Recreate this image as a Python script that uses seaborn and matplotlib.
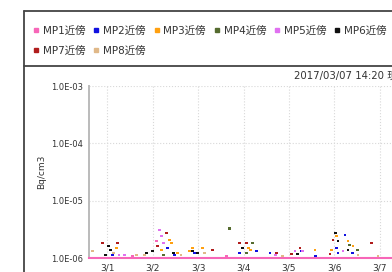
import matplotlib
matplotlib.use("Agg")
import matplotlib.pyplot as plt
import matplotlib.ticker as mtick
from matplotlib.lines import Line2D
import seaborn as sns
import pandas as pd

# --- data (day 1.0 = 2017-03-01 00:00, values in 1e-6 Bq/cm3) ---
series_names = ["MP1近傍", "MP2近傍", "MP3近傍", "MP4近傍", "MP5近傍", "MP6近傍", "MP7近傍", "MP8近傍"]
series_colors = ["#f766b8", "#1010e0", "#ffa010", "#556b2f", "#e070f0", "#101010", "#b01c1c", "#e0b888"]

mp1_days = [1.55, 2.08, 3.63]
mp1_vals = [1.08, 1.98, 1.08]
mp2_days = [1.11, 2.32, 2.48, 2.92, 3.91, 4.29, 4.58, 5.28, 5.59, 6.05, 6.08, 6.23, 6.39]
mp2_vals = [1.13, 1.49, 1.13, 1.22, 1.22, 1.32, 1.22, 1.32, 1.08, 1.49, 1.22, 2.51, 1.22]
mp3_days = [1.20, 2.19, 2.37, 2.41, 2.55, 2.81, 2.88, 3.10, 4.11, 4.16, 5.57, 5.94, 6.05, 6.30, 6.41]
mp3_vals = [1.49, 1.38, 2.06, 1.82, 1.22, 1.32, 1.49, 1.49, 1.49, 1.38, 1.38, 1.38, 2.41, 1.98, 1.62]
mp4_days = [2.24, 3.69, 4.07, 4.20, 6.34, 6.50]
mp4_vals = [1.13, 3.32, 1.22, 1.82, 1.68, 1.38]
mp5_days = [1.26, 1.38, 2.15, 2.19, 2.24, 4.71, 5.13, 5.30, 6.19]
mp5_vals = [1.13, 1.13, 3.07, 2.41, 1.82, 1.13, 1.32, 1.32, 1.32]
mp6_days = [0.96, 1.02, 1.07, 1.86, 1.99, 2.45, 2.88, 2.99, 3.98, 5.19, 6.03, 6.08, 6.30]
mp6_vals = [1.13, 1.62, 1.38, 1.22, 1.32, 1.22, 1.32, 1.22, 1.49, 1.17, 2.72, 1.98, 1.38]
mp7_days = [0.89, 1.22, 2.10, 2.30, 3.32, 3.91, 4.07, 4.73, 5.06, 5.24, 5.90, 5.97, 6.81]
mp7_vals = [1.82, 1.82, 1.62, 2.72, 1.38, 1.82, 1.82, 1.22, 1.17, 1.49, 1.17, 2.06, 1.82]
mp8_days = [0.67, 1.13, 1.64, 1.82, 2.62, 3.14, 4.86, 6.52, 6.96]
mp8_vals = [1.32, 1.22, 1.13, 1.13, 1.13, 1.22, 1.08, 1.13, 1.08]

tick_days = ["2017-03-01", "2017-03-02", "2017-03-03", "2017-03-04", "2017-03-05", "2017-03-06", "2017-03-07"]
tick_labels = ["3/1", "3/2", "3/3", "3/4", "3/5", "3/6", "3/7"]
y_ticks = [1e-6, 1e-5, 1e-4, 1e-3]
title_text = "2017/03/07 14:20 現在"
x_start, x_end = "2017-02-28 14:20", "2017-03-07 14:20"

# build long table
all_days = [mp1_days, mp2_days, mp3_days, mp4_days, mp5_days, mp6_days, mp7_days, mp8_days]
all_vals = [mp1_vals, mp2_vals, mp3_vals, mp4_vals, mp5_vals, mp6_vals, mp7_vals, mp8_vals]
rows = []
for name, days, vals in zip(series_names, all_days, all_vals):
    for d, v in zip(days, vals):
        rows.append({"series": name,
                     "time": pd.Timestamp("2017-02-28") + pd.to_timedelta(d, unit="D"),
                     "value": v * 1e-6})
df = pd.DataFrame(rows)
palette = dict(zip(series_names, series_colors))

sns.set_theme(style="white")
plt.rcParams["font.family"] = ["DejaVu Sans", "Noto Sans CJK JP"]

fig = plt.figure(figsize=(3.92, 2.72), dpi=100)
W, H = 392, 272
ax = fig.add_axes([89 / W, 14 / H, 318 / W, 172 / H])

sns.scatterplot(data=df, x="time", y="value", hue="series", palette=palette,
                marker="s", s=4, linewidth=0, legend=False, ax=ax, zorder=3)

ax.set_yscale("log")
ax.set_ylim(1e-6, 1e-3)
ax.set_xlim(pd.Timestamp(x_start), pd.Timestamp(x_end))
ax.set_yticks(y_ticks)
ax.yaxis.set_minor_locator(mtick.NullLocator())
ax.yaxis.set_major_formatter(mtick.FuncFormatter(lambda v, _: f"{v:.1E}"))
ax.set_xticks(pd.to_datetime(tick_days))
ax.set_xticklabels(tick_labels)
ax.tick_params(axis="both", labelsize=6, colors="#333333", length=2, width=0.6, pad=2)
ax.tick_params(axis="x", labelsize=6.5, length=0, pad=4)
ax.grid(True, ls=":", color="#d8d8d8", lw=0.8)

for side in ["top", "right"]:
    ax.spines[side].set_visible(False)
ax.spines["left"].set_color("#bbbbbb")
ax.spines["left"].set_linewidth(1.4)
ax.spines["bottom"].set_color("#f766b8")
ax.spines["bottom"].set_linewidth(1.5)

ax.set_xlabel("")
ax.set_ylabel("Bq/cm3", fontsize=6.5, color="#333333", labelpad=4)
ax.set_title(title_text, loc="right", fontsize=7.3, color="#333333", pad=5)

# legend in the top box: matplotlib fills columns first, so reorder to get rows MP1-MP6 / MP7-MP8
order = [0, 6, 1, 7, 2, 3, 4, 5]
handles = [Line2D([], [], marker="s", ls="", color=series_colors[i], markersize=3) for i in order]
labels = [series_names[i] for i in order]
fig.legend(handles, labels, loc="upper left", bbox_to_anchor=(33 / W, 1 - 26 / H),
           ncol=6, frameon=False, fontsize=7.5, borderpad=0, borderaxespad=0,
           handlelength=0.6, handletextpad=0.35, columnspacing=0.75, labelspacing=0.95,
           labelcolor="#333333")

# outer frame lines
frame = dict(color="#444444", lw=1.3, transform=fig.transFigure)
fig.add_artist(Line2D([24 / W, 24 / W], [0, 1 - 11 / H], **frame))
fig.add_artist(Line2D([24 / W, 1], [1 - 11 / H, 1 - 11 / H], **frame))
fig.add_artist(Line2D([24 / W, 1], [1 - 66 / H, 1 - 66 / H], **frame))

fig.savefig("out.png", dpi=100)
